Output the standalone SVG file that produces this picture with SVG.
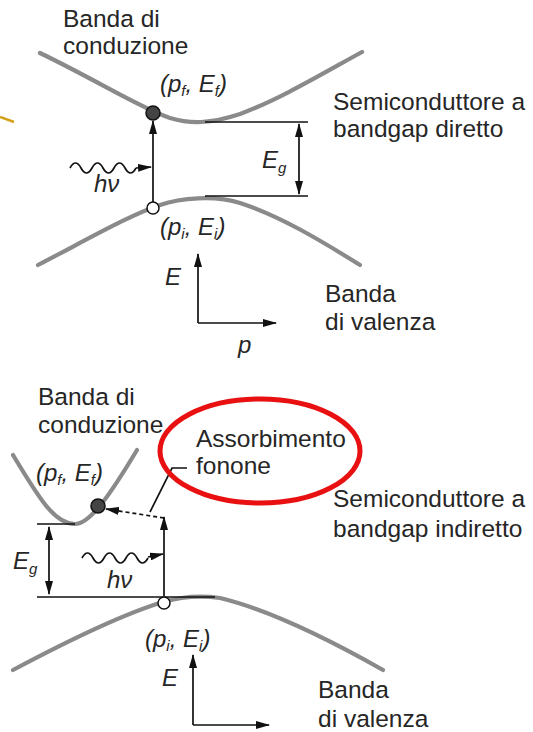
<svg xmlns="http://www.w3.org/2000/svg" width="533" height="732" viewBox="0 0 533 732">
<style>
.t{font-family:"Liberation Sans",Arial,sans-serif;font-size:24.5px;fill:#262626}
.it{font-family:"Liberation Sans",Arial,sans-serif;font-size:24px;font-style:italic;fill:#262626}
.sub{font-size:15px}
.band{fill:none;stroke:#8a8a8a;stroke-width:4.2;stroke-linecap:round}
.ln{fill:none;stroke:#111;stroke-width:1.7}
.arr{fill:none;stroke:#111;stroke-width:1.7;marker-end:url(#ah)}
.dbl{fill:none;stroke:#111;stroke-width:1.7;marker-start:url(#ahs);marker-end:url(#ah)}
.dot{fill:#444;stroke:#111;stroke-width:1.5}
.hole{fill:#fff;stroke:#111;stroke-width:1.5}
</style>
<defs>
<marker id="ah" viewBox="0 0 14 8" refX="13" refY="4" markerWidth="14" markerHeight="8" markerUnits="userSpaceOnUse" orient="auto"><path d="M0,0 L14,4 L0,8 z" fill="#111"/></marker>
<marker id="ahs" viewBox="0 0 14 8" refX="1" refY="4" markerWidth="14" markerHeight="8" markerUnits="userSpaceOnUse" orient="auto"><path d="M14,0 L0,4 L14,8 z" fill="#111"/></marker>
</defs>
<rect width="533" height="732" fill="#fff"/>
<line x1="0" y1="117" x2="14" y2="122" stroke="#d4a017" stroke-width="2.5"/>

<!-- TOP: direct bandgap -->
<g id="top-bands">
<path class="band" d="M40,53 C100,82 140,108 170,118 C190,124 210,124 240,114 C280,99 320,75 362,52"/>
<path class="band" d="M38,265 C90,238 130,215 160,205 C180,198 215,195 240,203 C280,216 320,240 360,265"/>
</g>
<g id="top-labels">
<text class="t" x="63" y="27">Banda di</text>
<text class="t" x="63" y="54">conduzione</text>
<text class="t" x="333" y="110">Semiconduttore a</text>
<text class="t" x="333" y="137">bandgap diretto</text>
<text class="t" x="325" y="302">Banda</text>
<text class="t" x="325" y="330">di valenza</text>
<text class="it" x="160" y="92">(p<tspan class="sub" dy="4">f</tspan><tspan dy="-4">, E</tspan><tspan class="sub" dy="4">f</tspan><tspan dy="-4">)</tspan></text>
<text class="it" x="160" y="235">(p<tspan class="sub" dy="4">i</tspan><tspan dy="-4">, E</tspan><tspan class="sub" dy="4">i</tspan><tspan dy="-4">)</tspan></text>
<text class="it" x="262" y="168">E<tspan class="sub" dy="5">g</tspan></text>
<text class="it" x="94" y="192">hν</text>
<text class="it" x="165" y="285">E</text>
<text class="it" x="238" y="353">p</text>
</g>
<g id="top-connectors">
<line class="ln" x1="205" y1="122" x2="308" y2="122"/>
<line class="ln" x1="205" y1="196" x2="308" y2="196"/>
<line class="dbl" x1="299" y1="124" x2="299" y2="194"/>
<line class="arr" x1="153" y1="202" x2="153" y2="121"/>
<path class="ln" d="M70,168 q5.5,-10 11,0 t11,0 t11,0 t11,0 t11,0 t11,0"/>
<line class="arr" x1="136" y1="168" x2="151" y2="167"/>
<line class="arr" x1="198" y1="323" x2="198" y2="254"/>
<line class="arr" x1="198" y1="323" x2="276" y2="323"/>
</g>
<g id="top-dot"><circle class="dot" cx="153" cy="113" r="7"/></g>
<g id="top-hole"><circle class="hole" cx="153" cy="208" r="6"/></g>

<!-- BOTTOM: indirect bandgap -->
<g id="bot-bands">
<path class="band" d="M13,455 C40,500 55,524 75,524 C90,524 110,495 137,450"/>
<path class="band" d="M13,670 C60,645 120,615 163,602 C180,597 200,595 220,598 C270,610 330,640 383,670"/>
</g>
<g id="bot-labels">
<text class="t" x="38" y="405">Banda di</text>
<text class="t" x="38" y="433">conduzione</text>
<text class="t" x="196" y="447">Assorbimento</text>
<text class="t" x="196" y="474">fonone</text>
<text class="t" x="333" y="507">Semiconduttore a</text>
<text class="t" x="333" y="537">bandgap indiretto</text>
<text class="t" x="318" y="698">Banda</text>
<text class="t" x="318" y="727">di valenza</text>
<text class="it" x="36" y="481">(p<tspan class="sub" dy="4">f</tspan><tspan dy="-4">, E</tspan><tspan class="sub" dy="4">f</tspan><tspan dy="-4">)</tspan></text>
<text class="it" x="145" y="647">(p<tspan class="sub" dy="4">i</tspan><tspan dy="-4">, E</tspan><tspan class="sub" dy="4">i</tspan><tspan dy="-4">)</tspan></text>
<text class="it" x="13" y="569">E<tspan class="sub" dy="5">g</tspan></text>
<text class="it" x="107" y="588">hν</text>
<text class="it" x="162" y="686">E</text>
</g>
<g id="bot-connectors">
<line class="ln" x1="37" y1="524" x2="75" y2="524"/>
<line class="ln" x1="37" y1="597" x2="215" y2="597"/>
<line class="dbl" x1="49" y1="527" x2="49" y2="594"/>
<line class="arr" x1="164" y1="596" x2="164" y2="517"/>
<path d="M164,518 L106,509" fill="none" stroke="#111" stroke-width="1.7" stroke-dasharray="4,3" marker-end="url(#ah)"/>
<polyline class="ln" points="150,512 172,468 187,468"/>
<path class="ln" d="M82,558 q5.5,-10 11,0 t11,0 t11,0 t11,0 t11,0 t11,0"/>
<line class="arr" x1="148" y1="557" x2="163" y2="554"/>
<line class="arr" x1="193" y1="725" x2="193" y2="655"/>
<line class="arr" x1="193" y1="725" x2="269" y2="725"/>
</g>
<g id="bot-dot"><circle class="dot" cx="98" cy="506" r="7"/></g>
<g id="bot-hole"><circle class="hole" cx="164" cy="603" r="6"/></g>
<g id="highlight"><ellipse cx="260" cy="451" rx="100" ry="52" fill="none" stroke="#e81010" stroke-width="5"/></g>
</svg>
